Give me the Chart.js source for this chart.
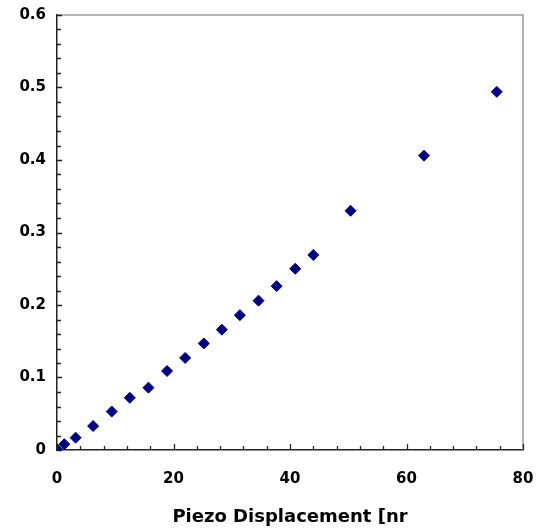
<!DOCTYPE html>
<html>
<head>
<meta charset="utf-8">
<script src="https://cdn.jsdelivr.net/npm/chart.js@4.4.1/dist/chart.umd.min.js"></script>
<style>
  html, body { margin: 0; padding: 0; background: #fff; }
  #wrap { width: 539px; height: 531px; }
</style>
</head>
<body>
<div id="wrap"><canvas id="c" width="539" height="531"></canvas></div>
<script>
// dati
const displacement = [0, 1.25, 3.2, 6.2, 9.4, 12.5, 15.7, 18.9, 22.0, 25.2, 28.3, 31.4, 34.6, 37.7, 40.9, 44.0, 50.4, 63.0, 75.5];
const signal = [0.001, 0.008, 0.017, 0.033, 0.053, 0.072, 0.086, 0.109, 0.127, 0.147, 0.166, 0.186, 0.206, 0.226, 0.250, 0.269, 0.330, 0.406, 0.494];
const xTitle = 'Piezo Displacement [nr';

const fontBold = { family: 'DejaVu Sans', size: 15, weight: 'bold' };

// tacche interne (maggiori e minori) + bordo grigio in alto e a destra
const tickPlugin = {
    id: 'innerTicks',
    afterDraw: function (chart) {
        const ctx = chart.ctx;
        const a = chart.chartArea;
        const xs = chart.scales.x, ys = chart.scales.y;
        ctx.save();
        // bordo grigio
        ctx.strokeStyle = '#9a9a9a';
        ctx.lineWidth = 1.5;
        ctx.beginPath();
        ctx.moveTo(a.left, a.top);
        ctx.lineTo(a.right, a.top);
        ctx.lineTo(a.right, a.bottom);
        ctx.stroke();

        ctx.strokeStyle = '#222';
        ctx.lineWidth = 1.3;
        ctx.beginPath();
        for (let v = 0; v <= 80.001; v += 4) {
            const px = Math.round(xs.getPixelForValue(v)) + 0.5;
            const len = (Math.abs(v % 20) < 0.01) ? 6 : 4;
            ctx.moveTo(px, a.bottom);
            ctx.lineTo(px, a.bottom - len);
        }
        for (let i = 0; i <= 30; i++) {
            const v = i * 0.02;
            const py = Math.round(ys.getPixelForValue(v)) + 0.5;
            const len = (i % 5 === 0) ? 5 : 4;
            ctx.moveTo(a.left, py);
            ctx.lineTo(a.left + len, py);
        }
        ctx.stroke();
        ctx.restore();
    }
};

new Chart(document.getElementById('c'), {
    type: 'scatter',
    data: {
        datasets: [{
            data: displacement.map((x, i) => ({ x: x, y: signal[i] })),
            pointStyle: 'rectRot',
            pointRadius: 5.5,
            pointHoverRadius: 5.5,
            backgroundColor: '#000080',
            borderColor: '#000080',
            borderWidth: 1
        }]
    },
    options: {
        responsive: false,
        animation: false,
        layout: { padding: { top: 15, right: 16, left: 0, bottom: 0 } },
        plugins: {
            legend: { display: false },
            tooltip: { enabled: false }
        },
        scales: {
            x: {
                type: 'linear',
                min: 0,
                max: 80,
                grid: { display: false, drawTicks: false },
                border: { display: true, color: '#222', width: 1.5 },
                ticks: { stepSize: 20, color: '#000', font: fontBold, padding: 20 },
                title: {
                    display: true,
                    text: xTitle,
                    color: '#000',
                    font: { family: 'DejaVu Sans', size: 18, weight: 'bold' },
                    padding: { top: 0, bottom: 3 }
                },
                afterFit: function (s) {
                    s.height = 81;
                    s.paddingLeft = 0;
                    s.paddingRight = 0;
                }
            },
            y: {
                min: 0,
                max: 0.6,
                grid: { display: false, drawTicks: false },
                border: { display: true, color: '#222', width: 1.5 },
                ticks: { stepSize: 0.1, color: '#000', font: fontBold, padding: 11 },
                afterFit: function (s) {
                    s.width = 57;
                    s.paddingTop = 0;
                    s.paddingBottom = 0;
                }
            }
        }
    },
    plugins: [tickPlugin]
});
</script>
</body>
</html>
